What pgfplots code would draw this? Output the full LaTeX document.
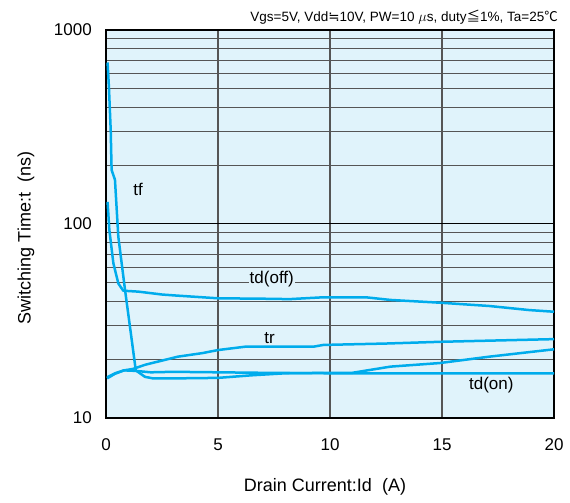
\documentclass[border=0pt]{standalone}
\usepackage{fontspec}
\setmainfont{Liberation Sans}
\newfontfamily\cjk{Noto Sans CJK JP}
\newfontfamily\dejavu{DejaVu Sans}
\usepackage{pgfplots}
\pgfplotsset{compat=1.18}
\definecolor{bgblue}{RGB}{224,243,251}
\definecolor{curve}{RGB}{0,172,236}
\definecolor{gridgray}{RGB}{85,85,85}
\begin{document}
\begin{tikzpicture}[x=1pt,y=1pt]
\useasboundingbox (0,0) rectangle (570,503);
\begin{axis}[
  at={(106pt,85pt)}, anchor=south west,
  scale only axis, width=448pt, height=388pt,
  xmin=0, xmax=20, ymin=10, ymax=1000, ymode=log,
  xtick={0,5,10,15,20}, ytick={10,100,1000}, yticklabels={10,100,1000},
  minor ytick={20,30,40,50,60,70,80,90,200,300,400,500,600,700,800,900},
  grid=both,
  axis background/.style={fill=bgblue},
  axis line style={line width=2.5pt},
  tick style={draw=none},
  major grid style={black, line width=1pt},
  minor grid style={gridgray, line width=1pt},
  major x grid style={gridgray, line width=1.3pt},
  /pgf/number format/assume math mode=true,
  ticklabel style={font=\fontsize{17}{20}\selectfont, inner sep=0pt},
  xticklabel style={anchor=center, yshift=-27pt},
  yticklabel style={anchor=east, xshift=-14pt},
  sw/.style={curve, line width=2.5pt, line join=round, mark=none},
]
% tf
\addplot[sw] coordinates {(0.07,680) (0.13,510) (0.21,305) (0.25,190) (0.4,169) (0.55,86) (0.85,45.7) (1.15,25.2) (1.33,17.6) (1.74,16.3) (2.1,16.0) (3,16.0) (5,16.1) (6.5,16.6) (8,17.0) (10,17.1) (11,17.1) (12.7,18.4) (14.9,19.2) (17.1,20.7) (20,22.6)};
% td(off)
\addplot[sw] coordinates {(0.07,130) (0.15,93) (0.33,62.7) (0.55,49.4) (0.77,45.3) (1.45,44.8) (2.5,43.3) (3.1,42.8) (5,41.4) (7,41.2) (8.2,41) (9.7,41.9) (11.6,41.9) (12.7,40.6) (14.9,39.3) (17.1,37.8) (18.9,36.0) (20,35.3)};
% tr
\addplot[sw] coordinates {(0.05,16.0) (0.4,16.9) (0.8,17.6) (1.2,17.9) (1.74,18.8) (3.2,20.7) (4.3,21.6) (5,22.4) (6.2,23.3) (8.2,23.3) (9.25,23.3) (9.7,23.8) (12.5,24.2) (14.9,24.7) (20,25.5)};
% td(on)
\addplot[sw] coordinates {(0.05,16.2) (0.4,17.0) (0.8,17.6) (1.3,17.5) (2,17.2) (3,17.3) (5,17.2) (7,17.1) (10,17.0) (15,17.0) (20,17.0)};
\node[font=\fontsize{17}{20}\selectfont] at (axis cs:1.43,150) {tf};
\node[font=\fontsize{17}{20}\selectfont, fill=bgblue, inner sep=1pt] at (axis cs:7.4,52) {td(off)};
\node[font=\fontsize{17}{20}\selectfont] at (axis cs:7.3,25.8) {tr};
\node[font=\fontsize{17}{20}\selectfont] at (axis cs:17.2,14.8) {td(on)};
\end{axis}
\node[anchor=base east, font=\fontsize{13.5}{16}\selectfont, inner sep=0pt] at (558,481)
  {Vgs=5V, Vdd{\dejavu ≒}10V, PW=10 $\mu$s, duty{\cjk ≦}1\%, Ta=25{\cjk ℃}};
\node[font=\fontsize{18}{21}\selectfont] at (325,16) {Drain Current:Id\ \ (A)};
\node[font=\fontsize{18}{21}\selectfont, rotate=90] at (26,265) {Switching Time:t\ \ (ns)};
\end{tikzpicture}
\end{document}
